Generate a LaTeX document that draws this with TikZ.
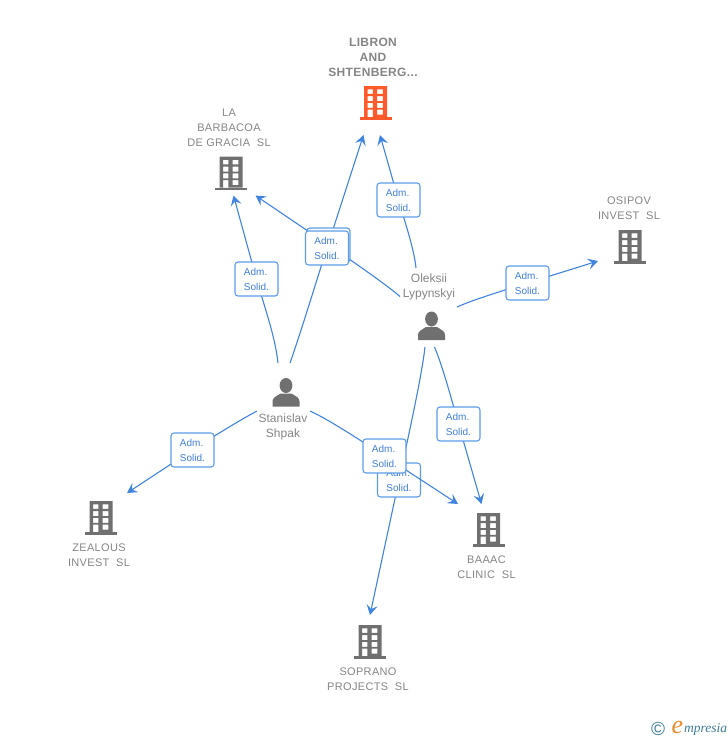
\documentclass[tikz,border=0pt]{standalone}
\usepackage{fontspec}
\setmainfont{Liberation Sans}
\newfontfamily\spaced[LetterSpace=3]{Liberation Sans}
\newfontfamily\logoserif{Liberation Serif}
\usetikzlibrary{arrows.meta,calc}
\definecolor{edgeblue}{HTML}{3F84E0}
\definecolor{boxblue}{HTML}{5C9BEA}
\definecolor{labelblue}{HTML}{3F7FD8}
\definecolor{txtgray}{HTML}{858585}
\definecolor{icongray}{HTML}{707070}
\definecolor{hotorange}{HTML}{FF5A2B}
\definecolor{logoteal}{HTML}{3B7C96}
\definecolor{logoorange}{HTML}{F08A24}
\pgfdeclarelayer{edgelayer}
\pgfdeclarelayer{lowlabel}
\pgfdeclarelayer{overedge}
\pgfsetlayers{edgelayer,lowlabel,overedge,main}
\tikzset{
  x=1pt,y=-1pt,
  link/.style={draw=edgeblue,line width=1.1pt},
  linkhead/.style={link,-{Stealth[length=10pt,width=11pt,inset=4pt]}},
  rolebox/.style={draw=boxblue,line width=1.1pt,fill=white,rounded corners=3pt,
    minimum width=43pt,minimum height=34pt,inner sep=0pt,text=labelblue,
    font=\fontsize{10}{15}\selectfont,align=left},
  company/.style={text=txtgray,inner sep=0pt,align=center,
    font=\spaced\fontsize{11}{15}\selectfont},
  companyhot/.style={text=txtgray,inner sep=0pt,align=center,
    font=\spaced\bfseries\fontsize{12}{15}\selectfont},
  personname/.style={text=txtgray,inner sep=0pt,align=center,
    font=\fontsize{12}{15.5}\selectfont},
  pics/bldg/.style={code={
    \fill[#1,even odd rule]
      (-11.5,0) rectangle (11.5,31)
      (-8,3.4) rectangle (-2.6,7.9) (1.6,3.4) rectangle (7.4,7.9)
      (-8,10) rectangle (-2.6,15.2) (1.6,10) rectangle (7.4,15.2)
      (-8,16.8) rectangle (-2.6,21.9) (1.6,16.8) rectangle (7.4,21.9)
      (-8,23.5) rectangle (-2.6,31) (1.6,23.5) rectangle (7.4,28.6);
    \fill[#1] (-16,31) rectangle (16,33.5);
  }},
  pics/person/.style={code={
    \fill[icongray] (0,0) ellipse (6.4pt and 7.5pt);
    \fill[icongray] (-13.5,21) -- (-13.5,16)
      .. controls (-13.5,12) and (-10,11) .. (-5.5,8)
      -- (5.5,8)
      .. controls (10,11) and (13.5,12) .. (13.5,16)
      -- (13.5,21) -- cycle;
  }}
}
\begin{document}
\begin{tikzpicture}
\useasboundingbox (0,0) rectangle (728,740);

% icons
\pic at (375.5,86) {bldg=hotorange};
\pic at (231,156.5) {bldg=icongray};
\pic at (630,230) {bldg=icongray};
\pic at (101,501) {bldg=icongray};
\pic at (488.5,513) {bldg=icongray};
\pic at (370,625) {bldg=icongray};
\pic at (431.5,319) {person};
\pic at (286,385.5) {person};

% texts
\node[companyhot] (libron) at (373,57) {LIBRON\\AND\\SHTENBERG...};
\node[company] (barbacoa) at (229,127.5) {LA\\BARBACOA\\DE GRACIA\ \ SL};
\node[company] (osipov) at (629,208) {OSIPOV\\INVEST\ \ SL};
\node[company] (zealous) at (99,555) {ZEALOUS\\INVEST\ \ SL};
\node[company] (baaac) at (486.5,567) {BAAAC\\CLINIC\ \ SL};
\node[company] (soprano) at (368,679) {SOPRANO\\PROJECTS\ \ SL};
\node[personname] (oleksii) at (429,287) {Oleksii\\Lypynskyi};
\node[personname] (stanislav) at (283,427) {Stanislav\\Shpak};

% role boxes
\node[rolebox] (r1) at (398.5,200) {Adm.\\Solid.};
\node[rolebox] (r2) at (328.5,245) {Adm.\\Solid.};
\node[rolebox] (r3) at (327,248) {Adm.\\Solid.};
\node[rolebox] (r4) at (256.5,279) {Adm.\\Solid.};
\node[rolebox] (r5) at (527.5,283) {Adm.\\Solid.};
\node[rolebox] (r6) at (458.5,424) {Adm.\\Solid.};
\begin{pgfonlayer}{lowlabel}
\node[rolebox] (r7) at (399,480) {Adm.\\Solid.};
\end{pgfonlayer}
\node[rolebox] (r8) at (384.5,456) {Adm.\\Solid.};
\node[rolebox] (r9) at (192.5,450) {Adm.\\Solid.};

% connector free ends
\coordinate (s1) at (416,268);   \coordinate (t1) at (380,135);
\coordinate (s2) at (400,296.5); \coordinate (t2) at (255.5,195.5);
\coordinate (s3) at (278,363);   \coordinate (t3) at (233.5,195.5);
\coordinate (s4) at (290,363);   \coordinate (t4) at (363.5,135);
\coordinate (s5) at (457,307);   \coordinate (t5) at (598,261);
\coordinate (s6) at (434.5,347); \coordinate (t6) at (481.5,504);
\coordinate (s7) at (425,347);   \coordinate (t7) at (370,615);
\coordinate (s8) at (310,411);   \coordinate (t8) at (458,504);
\coordinate (s9) at (257,411);   \coordinate (t9) at (127,493);

\begin{pgfonlayer}{edgelayer}
\draw[link] (s1) .. controls (414,248) and ($(r1.center)!-22pt!(t1)$) .. (r1.center);
\draw[linkhead] (r1.center) -- (t1);
\draw[link] (s2) .. controls (385,283.5) and ($(r2.center)!-25pt!(t2)$) .. (r2.center);
\draw[linkhead] (r2.center) -- (t2);
\draw[link] (s3) .. controls (275,335) and ($(r4.center)!-25pt!(t3)$) .. (r4.center);
\draw[linkhead] (r4.center) -- (t3);
\draw[link] (s4) .. controls (300,335) and ($(r3.center)!-30pt!(t4)$) .. (r3.center);
\draw[linkhead] (r3.center) -- (t4);
\draw[link] (s5) .. controls (475,299) and ($(r5.center)!-22pt!(t5)$) .. (r5.center);
\draw[linkhead] (r5.center) -- (t5);
\draw[link] (s6) .. controls (443,367) and ($(r6.center)!-22pt!(t6)$) .. (r6.center);
\draw[linkhead] (r6.center) -- (t6);
\draw[link] (s7) .. controls (422,375) and ($(r7.center)!-40pt!(t7)$) .. (r7.center);
\draw[linkhead] (r7.center) -- (t7);
\draw[link] (s8) .. controls (328,419) and ($(r8.center)!-25pt!(t8)$) .. (r8.center);
\draw[link] (s9) .. controls (240,420) and ($(r9.center)!-22pt!(t9)$) .. (r9.center);
\draw[linkhead] (r9.center) -- (t9);
\end{pgfonlayer}
\begin{pgfonlayer}{overedge}
\draw[linkhead] (r8.center) -- (t8);
\end{pgfonlayer}

% logo
\node[inner sep=0pt,text=logoteal,font=\fontsize{19}{19}\selectfont] (copyr) at (658,729) {©};
\node[inner sep=0pt,text=logoorange,font=\logoserif\itshape\fontsize{26}{26}\selectfont] (logoe) at (677.5,727) {e};
\node[inner sep=0pt,anchor=west,text=logoteal,font=\logoserif\itshape\fontsize{13.5}{13.5}\selectfont] (logow) at (684,729.5) {mpresia};
\end{tikzpicture}
\end{document}
